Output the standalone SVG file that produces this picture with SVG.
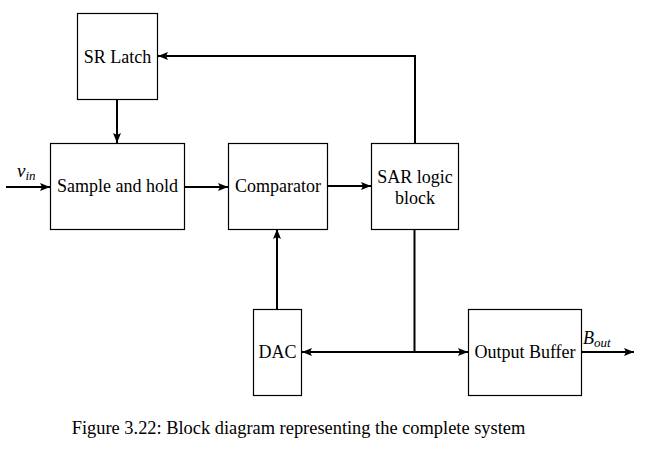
<svg xmlns="http://www.w3.org/2000/svg" width="645" height="453" viewBox="0 0 645 453">
<defs>
<style>
.box{fill:#fff;stroke:#000;stroke-width:1.2}
.lbl{font-family:"Liberation Serif","Times New Roman",serif;font-size:18px;fill:#000;text-anchor:middle}
.math{font-family:"Liberation Serif","Times New Roman",serif;font-style:italic;fill:#000}
.wire{fill:none;stroke:#000;stroke-width:2}
</style>
<marker id="arr" viewBox="0 0 10 8" refX="10" refY="4" markerWidth="10" markerHeight="8" markerUnits="userSpaceOnUse" orient="auto-start-reverse">
<path d="M0,0 L10,4 L0,8 L2,4 Z" fill="#000"/>
</marker>
</defs>
<rect width="645" height="453" fill="#fff"/>
<g id="connectors">
<path class="wire" d="M415,143 V56 H158" marker-end="url(#arr)"/>
<path class="wire" d="M117,99 V143" marker-end="url(#arr)"/>
<path class="wire" d="M6,187 H50" marker-end="url(#arr)"/>
<path class="wire" d="M184,187 H228" marker-end="url(#arr)"/>
<path class="wire" d="M328,186 H371" marker-end="url(#arr)"/>
<path class="wire" d="M277,309 V229" marker-end="url(#arr)"/>
<path class="wire" d="M302,352 H468" marker-start="url(#arr)" marker-end="url(#arr)"/>
<path class="wire" d="M414.5,229 V352"/>
<path class="wire" d="M581,352 H634" marker-end="url(#arr)"/>
</g>
<g id="srlatch"><rect class="box" x="77.5" y="13.5" width="80" height="86"/><text class="lbl" x="117.5" y="63">SR Latch</text></g>
<g id="samplehold"><rect class="box" x="50.5" y="143.5" width="134" height="86"/><text class="lbl" x="117.5" y="192">Sample and hold</text></g>
<g id="comparator"><rect class="box" x="228.5" y="143.5" width="99" height="86"/><text class="lbl" x="278" y="192">Comparator</text></g>
<g id="sar"><rect class="box" x="371.5" y="143.5" width="87" height="86"/><text class="lbl" x="415" y="182.5">SAR logic</text><text class="lbl" x="415" y="203.5">block</text></g>
<g id="dac"><rect class="box" x="253.5" y="309.5" width="48" height="86"/><text class="lbl" x="277.5" y="358">DAC</text></g>
<g id="outbuf"><rect class="box" x="468.5" y="309.5" width="113" height="86"/><text class="lbl" x="525" y="358">Output Buffer</text></g>
<g id="labels">
<text class="math" x="17" y="177" font-size="19">v<tspan font-size="13" dy="3">in</tspan></text>
<text class="math" x="583" y="344" font-size="18">B<tspan font-size="13" dy="3">out</tspan></text>
<text x="298.5" y="434" style="font-family:'Liberation Serif','Times New Roman',serif;font-size:18.4px;text-anchor:middle">Figure 3.22: Block diagram representing the complete system</text>
</g>
</svg>
